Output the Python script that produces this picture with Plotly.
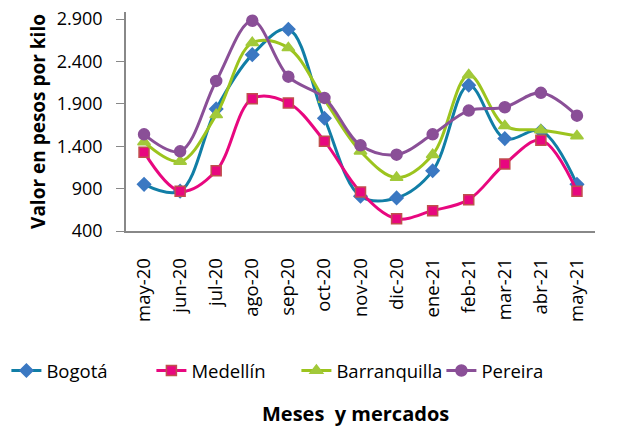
import plotly.graph_objects as go

meses = ["may-20", "jun-20", "jul-20", "ago-20", "sep-20", "oct-20", "nov-20",
         "dic-20", "ene-21", "feb-21", "mar-21", "abr-21", "may-21"]

bogota = [950, 870, 1840, 2480, 2780, 1730, 810, 790, 1110, 2120, 1490, 1580, 950]
medellin = [1330, 870, 1110, 1960, 1910, 1460, 860, 545, 640, 770, 1190, 1470, 870]
barranquilla = [1450, 1220, 1770, 2620, 2560, 1950, 1340, 1030, 1300, 2240, 1640, 1590, 1520]
pereira = [1540, 1340, 2170, 2880, 2220, 1970, 1410, 1300, 1540, 1820, 1860, 2030, 1760]

ytick_vals = [400, 900, 1400, 1900, 2400, 2900]
ytick_text = ["400", "900", "1.400", "1.900", "2.400", "2.900"]

series = [
    ("Bogotá", bogota, "#117ea6", "diamond", "#3b78c2", "#3b78c2", 10),
    ("Medellín", medellin, "#e8077f", "square", "#e8077f", "#c0504d", 10),
    ("Barranquilla", barranquilla, "#9cc41e", "triangle-up", "#a2c93a", "#a2c93a", 11),
    ("Pereira", pereira, "#8a4f97", "circle", "#8a4f97", "#8a4f97", 11),
]

fig = go.Figure()
for name, vals, lc, sym, mfill, mline, msz in series:
    fig.add_trace(go.Scatter(
        x=meses, y=vals, name=name, mode="lines+markers",
        line=dict(color=lc, width=3, shape="spline", smoothing=1.0),
        marker=dict(symbol=sym, size=msz, color=mfill, line=dict(color=mline, width=1.5)),
    ))

# page body has an 8px default margin; figure is sized/offset to compensate
font = "Open Sans, Noto Sans, sans-serif"
fig.update_layout(
    width=615, height=421, autosize=False,
    margin=dict(l=118, r=28, t=4, b=198, autoexpand=False),
    paper_bgcolor="white", plot_bgcolor="white",
    font=dict(family=font, size=18, color="#000000"),
    showlegend=True,
    legend=dict(orientation="h", x=-0.255, xanchor="left",
                y=-0.639, yanchor="middle", font=dict(size=18.5, color="#000"),
                entrywidth=100, entrywidthmode="pixels",
                traceorder="normal", bgcolor="rgba(0,0,0,0)"),
    xaxis=dict(type="category", showgrid=False, showline=True, linecolor="#888888",
               linewidth=1.5, ticks="", tickangle=-90, tickfont=dict(size=18.5),
               ticklabelstandoff=18,
               range=[-0.5, 12.5], automargin=False),
    yaxis=dict(range=[400, 2983], tickvals=ytick_vals, ticktext=ytick_text,
               showgrid=False, showline=True, linecolor="#888888", linewidth=1.5,
               ticks="outside", ticklen=8, tickcolor="#888888", tickfont=dict(size=18),
               ticklabelstandoff=10, ticklabeloverflow="allow",
               title=dict(text="<b>Valor en pesos por kilo</b>", font=dict(size=19), standoff=6),
               automargin=False, zeroline=False),
    annotations=[dict(text="<b>Meses  y mercados</b>", xref="paper", yref="paper",
                      x=0.49, y=-0.835, xanchor="center", yanchor="middle",
                      showarrow=False, font=dict(size=20))],
)

fig.write_html("out.html")
